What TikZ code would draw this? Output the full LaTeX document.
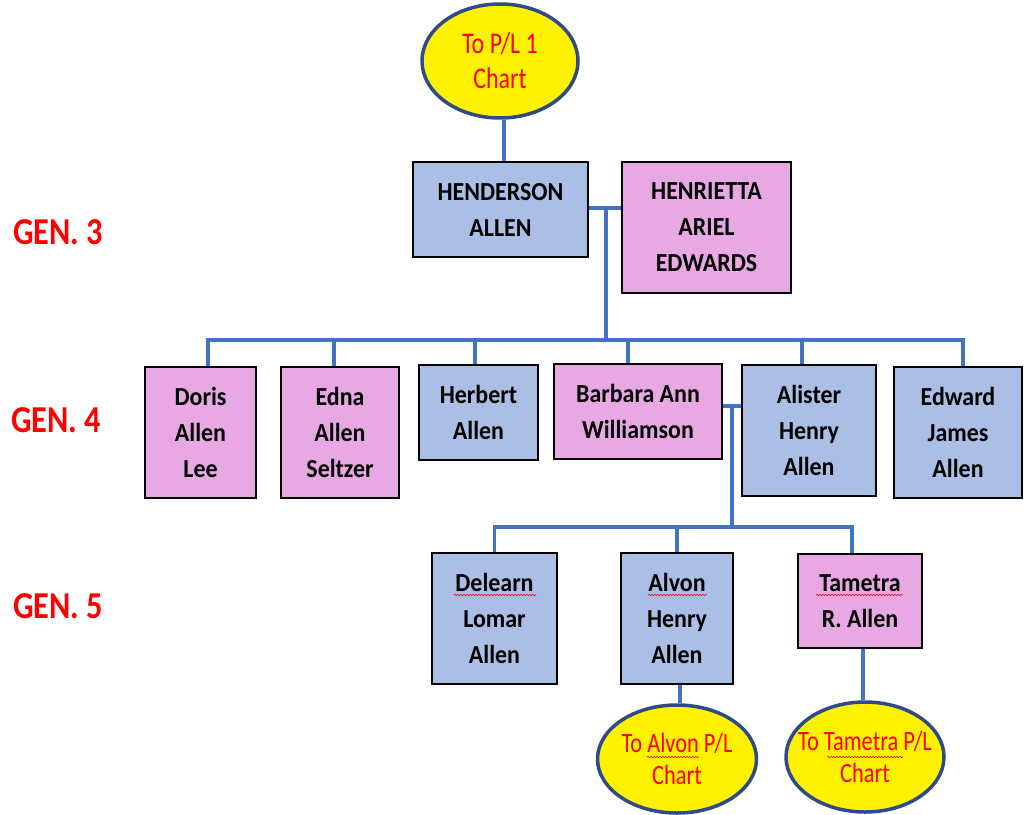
\documentclass[tikz,border=0pt]{standalone}
\usepackage{fontspec}
\setmainfont{Carlito}
\newfontfamily\namefont[FakeStretch=0.92]{Carlito}
\newfontfamily\ovalfont[FakeStretch=0.8]{Carlito}
\newfontfamily\genfont[FakeStretch=0.85]{Carlito}
\usetikzlibrary{backgrounds,decorations.pathmorphing,shapes.geometric}
\definecolor{maleblue}{HTML}{ABBEE5}
\definecolor{femalepink}{HTML}{E8A8E4}
\definecolor{linkblue}{HTML}{4472C4}
\definecolor{ovalrim}{HTML}{2F4B85}
\definecolor{labelred}{HTML}{FF0000}
\tikzset{
  person/.style={rectangle, draw=black, line width=2pt, inner sep=0pt,
    align=center, font=\namefont\bfseries\fontsize{26}{36}\selectfont},
  male/.style={person, fill=maleblue},
  female/.style={person, fill=femalepink},
  oval/.style={ellipse, draw=ovalrim, line width=3.5pt, fill=yellow, inner sep=-30pt,
    align=center, text=labelred},
  bigoval/.style={oval, font=\ovalfont\fontsize{30}{35}\selectfont},
  smalloval/.style={oval, font=\ovalfont\fontsize{28}{32}\selectfont},
  gen/.style={text=labelred, font=\genfont\bfseries\fontsize{38}{40}\selectfont},
  link/.style={draw=linkblue, line width=3.2pt},
  spell/.style={draw=red, line width=0.6pt, decorate,
    decoration={snake, amplitude=0.7pt, segment length=3pt}}
}
\begin{document}
\begin{tikzpicture}[x=1pt, y=-1pt]
\useasboundingbox (0,0) rectangle (1024,814);

% generation labels
\node[gen] (g3) at (58,232) {GEN. 3};
\node[gen] (g4) at (56,420) {GEN. 4};
\node[gen] (g5) at (58,606) {GEN. 5};

% link to the previous chart
\node[bigoval, minimum width=156pt, minimum height=114pt] (topE) at (500,61) {To P/L 1\\Chart};

% generation 3
\node[male, minimum width=175pt, minimum height=95pt] (hend) at (500.5,209.5) {HENDERSON\\ALLEN};
\node[female, minimum width=169pt, minimum height=131pt] (henr) at (706.5,227.5) {HENRIETTA\\ARIEL\\EDWARDS};

% generation 4
\node[female, minimum width=111pt, minimum height=131pt] (doris) at (200.5,432.5) {Doris\\Allen\\Lee};
\node[female, minimum width=118pt, minimum height=131pt] (edna) at (340,432.5) {Edna\\Allen\\Seltzer};
\node[male, minimum width=119pt, minimum height=95pt] (herbert) at (478.5,412.5) {Herbert\\Allen};
\node[female, minimum width=168pt, minimum height=95pt] (barbara) at (638,411.5) {Barbara Ann\\Williamson};
\node[male, minimum width=134pt, minimum height=131pt] (alister) at (809,430.5) {Alister\\Henry\\Allen};
\node[male, minimum width=128pt, minimum height=131pt] (edward) at (958,432.5) {Edward\\James\\Allen};

% generation 5
\node[male, minimum width=125pt, minimum height=131pt] (delearn) at (494.5,618.5) {Delearn\\Lomar\\Allen};
\node[male, minimum width=112pt, minimum height=131pt] (alvon) at (677,618.5) {Alvon\\Henry\\Allen};
\node[female, minimum width=124pt, minimum height=94pt] (tametra) at (860,601) {Tametra\\R. Allen};

% links to the next charts
\node[smalloval, minimum width=159pt, minimum height=108pt] (alvonE) at (677,759) {To Alvon P/L\\Chart};
\node[smalloval, minimum width=158pt, minimum height=110pt] (tamE) at (865,757) {To Tametra P/L\\Chart};

% connectors
\coordinate (m3) at (606,208);
\coordinate (bus4) at (606,340);
\coordinate (m4) at (732,406);
\coordinate (bus5) at (732,527);
\begin{pgfonlayer}{background}
  \draw[link] ([xshift=3.5pt]hend.north) -- ([xshift=3.5pt]hend.north |- topE.south);
  \draw[link] (hend.east |- m3) -- (henr.west |- m3);
  \draw[link] (m3) -- (bus4);
  \draw[link] ([xshift=7.5pt]doris.north) |- (bus4) -| ([xshift=5pt]edward.north);
  \draw[link] ([xshift=-6pt]edna.north) |- (bus4);
  \draw[link] ([xshift=-3.5pt]herbert.north) |- (bus4);
  \draw[link] ([xshift=-10pt]barbara.north) |- (bus4);
  \draw[link] ([xshift=-7pt]alister.north) |- (bus4);
  \draw[link] (barbara.east |- m4) -- (alister.west |- m4);
  \draw[link] (m4) -- (bus5);
  \draw[link] (delearn.north) |- (bus5) -| ([xshift=-8pt]tametra.north);
  \draw[link] (alvon.north) |- (bus5);
  \draw[link] ([xshift=3pt]alvon.south) -- ([xshift=3pt]alvon.south |- alvonE.north);
  \draw[link] ([xshift=3pt]tametra.south) -- ([xshift=3pt]tametra.south |- tamE.north);
\end{pgfonlayer}

% spelling marks under names
\draw[spell] (454,595) -- (536,595);
\draw[spell] (648,595) -- (707,595);
\draw[spell] (816,595) -- (903,595);
\draw[spell] (647,757) -- (699,757);
\draw[spell] (827,757) -- (903,757);
\end{tikzpicture}
\end{document}
